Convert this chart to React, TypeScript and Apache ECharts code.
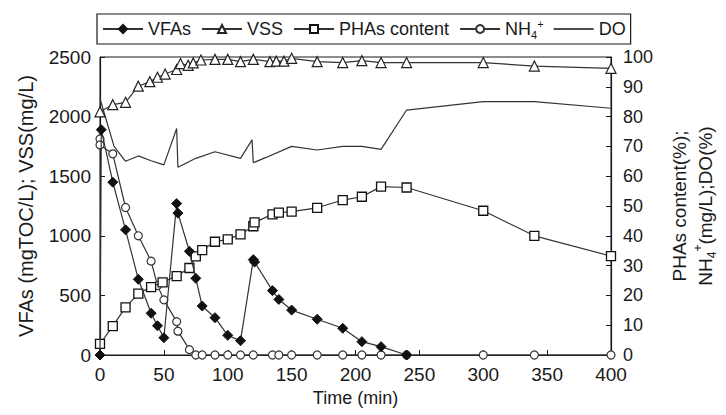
import React, { useEffect, useRef } from "react";
import * as echarts from "echarts";

// ---- data ----
const vfaTime = [0, 1, 10, 20, 30, 40, 45, 50, 60, 61, 70, 75, 80, 90, 100, 110, 120, 121, 135, 140, 150, 170, 190, 205, 220, 240];
const vfaValues = [0, 1890, 1450, 1050, 635, 350, 245, 145, 1270, 1190, 870, 643, 411, 313, 165, 120, 800, 780, 540, 466, 377, 300, 224, 112, 70, 0];

const vssTime = [0, 10, 20, 30, 39, 45, 51, 60, 63, 69, 73, 79, 90, 100, 110, 120, 133, 138, 144, 150, 170, 190, 205, 220, 240, 300, 340, 400];
const vssValues = [2040, 2100, 2120, 2255, 2293, 2330, 2357, 2395, 2445, 2430, 2450, 2475, 2480, 2480, 2461, 2480, 2461, 2465, 2465, 2489, 2461, 2453, 2469, 2453, 2453, 2453, 2424, 2405];

const phaTime = [0, 10, 20, 30, 40, 49, 60, 70, 75, 80, 90, 100, 110, 120, 121, 135, 140, 150, 170, 190, 205, 220, 240, 300, 340, 400];
const phaValues = [3.7, 9.7, 16, 20.6, 22.8, 24.4, 26.5, 29.2, 33.1, 35.2, 38, 38.8, 40.5, 43.2, 44.5, 47.2, 47.8, 48.1, 49.4, 52, 53.1, 56.5, 56.2, 48.4, 40, 33.2];

const nh4Time = [0, 0, 10, 20, 30, 40, 45, 50, 60, 61, 70, 75, 80, 90, 100, 110, 120, 135, 140, 150, 170, 190, 205, 220, 240, 300, 340, 400];
const nh4Values = [72.5, 70.5, 67.5, 49.5, 40, 31.5, 23.3, 18.5, 11.2, 8, 1.8, 0, 0, 0, 0, 0, 0, 0, 0, 0, 0, 0, 0, 0, 0, 0, 0, 0];

const doTime = [0, 11, 20, 30, 40, 50, 60, 61, 75, 90, 110, 119, 120, 130, 150, 170, 190, 205, 220, 240, 300, 340, 400];
const doValues = [86, 70, 65, 66.8, 65.2, 63.8, 76, 63, 66, 68.2, 66, 72.2, 64.5, 66.3, 70, 68.8, 70, 70, 69, 82.2, 85, 85, 82.8];

const xTicks = { min: 0, max: 400, interval: 50 };
const leftTicks = { min: 0, max: 2500, interval: 500 };
const rightTicks = { min: 0, max: 100, interval: 10 };

const zip = (t: number[], v: number[]) => t.map((x, i) => [x, v[i]]);

const FONT = "Liberation Sans, Arial, sans-serif";
const INK = "#1a1a1a";
const plain = (v: number) => String(v);

export default function App() {
  const ref = useRef<HTMLDivElement>(null);
  useEffect(() => {
    if (!ref.current) return;
    const chart = echarts.init(ref.current, undefined, { renderer: "svg" });
    const lineStyle = { color: "#333", width: 1.2 };
    const base = {
      type: "line" as const,
      animation: false,
      clip: false,
      lineStyle,
      z: 3,
    };
    chart.setOption({
      animation: false,
      textStyle: { fontFamily: FONT },
      grid: {
        left: 100,
        right: 98,
        top: 57,
        bottom: 60,
        show: true,
        borderColor: INK,
        borderWidth: 1,
        backgroundColor: "transparent",
      },
      legend: {
        left: 97,
        top: 14,
        itemWidth: 40,
        itemHeight: 10,
        itemGap: 10,
        padding: [4, 5, 4, 5],
        borderColor: INK,
        borderWidth: 1.2,
        textStyle: {
          fontSize: 18,
          color: INK,
          fontFamily: FONT,
          lineHeight: 22,
          rich: {
            sub: { fontSize: 11, verticalAlign: "bottom", lineHeight: 14, color: INK },
            sup: { fontSize: 11, verticalAlign: "top", lineHeight: 14, color: INK },
          },
        },
        formatter: (name: string) => (name === "NH4+" ? "NH{sub|4}{sup|+}" : name),
        data: [
          "VFAs",
          "VSS",
          "PHAs content",
          "NH4+",
          { name: "DO", icon: "path://M0,0L40,0L40,1.4L0,1.4Z", itemStyle: { color: "#111" } },
        ],
      },
      xAxis: {
        type: "value",
        ...xTicks,
        name: "Time (min)",
        nameLocation: "middle",
        nameGap: 32,
        nameTextStyle: { fontSize: 18, color: INK, fontFamily: FONT },
        axisLine: { show: true, lineStyle: { color: INK, width: 1.2 } },
        axisTick: { show: true, inside: true, length: 5, lineStyle: { color: INK } },
        axisLabel: { fontSize: 19, color: INK, margin: 10, fontFamily: FONT, formatter: plain },
        splitLine: { show: false },
      },
      yAxis: [
        {
          type: "value",
          ...leftTicks,
          position: "left",
          name: "VFAs (mgTOC/L); VSS(mg/L)",
          nameLocation: "middle",
          nameRotate: 90,
          nameGap: 64,
          nameTextStyle: { fontSize: 20, color: INK, fontFamily: FONT },
          axisLine: { show: true, lineStyle: { color: INK, width: 1.2 } },
          axisTick: { show: true, inside: true, length: 5, lineStyle: { color: INK } },
          axisLabel: { fontSize: 19, color: INK, margin: 9, fontFamily: FONT, formatter: plain },
          splitLine: { show: false },
        },
        {
          type: "value",
          ...rightTicks,
          position: "right",
          name: "PHAs content(%);\nNH{sub|4}{sup|+}(mg/L);DO(%)",
          nameLocation: "middle",
          nameRotate: 90,
          nameGap: 55,
          nameTextStyle: {
            fontSize: 19,
            color: INK,
            fontFamily: FONT,
            lineHeight: 26,
            rich: {
              sub: { fontSize: 12, verticalAlign: "bottom", lineHeight: 16, color: INK },
              sup: { fontSize: 12, verticalAlign: "top", lineHeight: 16, color: INK },
            },
          },
          axisLine: { show: true, lineStyle: { color: INK, width: 1.2 } },
          axisTick: { show: true, inside: true, length: 5, lineStyle: { color: INK } },
          axisLabel: { fontSize: 18, color: INK, margin: 12, fontFamily: FONT, formatter: plain },
          splitLine: { show: false },
        },
      ],
      series: [
        {
          ...base,
          name: "VFAs",
          yAxisIndex: 0,
          data: zip(vfaTime, vfaValues),
          symbol: "diamond",
          symbolSize: 10,
          itemStyle: { color: "#111", borderColor: "#111", borderWidth: 1 },
          z: 5,
        },
        {
          ...base,
          name: "VSS",
          yAxisIndex: 0,
          data: zip(vssTime, vssValues),
          symbol: "triangle",
          symbolSize: 10,
          itemStyle: { color: "#fff", borderColor: "#222", borderWidth: 1.2 },
        },
        {
          ...base,
          name: "PHAs content",
          yAxisIndex: 1,
          data: zip(phaTime, phaValues),
          symbol: "rect",
          symbolSize: 9,
          itemStyle: { color: "#fff", borderColor: "#111", borderWidth: 1.3 },
          z: 4,
        },
        {
          ...base,
          name: "NH4+",
          yAxisIndex: 1,
          data: zip(nh4Time, nh4Values),
          symbol: "circle",
          symbolSize: 8,
          itemStyle: { color: "#fff", borderColor: "#333", borderWidth: 1.2 },
        },
        {
          ...base,
          name: "DO",
          yAxisIndex: 1,
          data: zip(doTime, doValues),
          symbol: "none",
          showSymbol: false,
          itemStyle: { color: "#333" },
        },
      ],
    });
    return () => chart.dispose();
  }, []);
  return (
    <div
      ref={ref}
      style={{ position: "absolute", left: 0, top: 0, width: 726, height: 415, background: "#fff" }}
    />
  );
}
